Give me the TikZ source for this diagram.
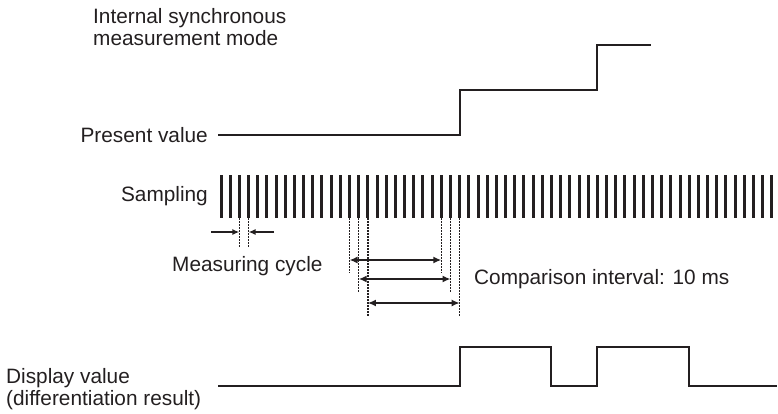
\documentclass[tikz,border=0pt]{standalone}
\usepackage{fontspec}
\setmainfont{Liberation Sans}
\usetikzlibrary{arrows.meta,positioning,calc}
\definecolor{ink}{HTML}{231F20}
\tikzset{
  label/.style={font=\fontsize{20.8}{21.5}\selectfont,text=ink,inner sep=0pt,align=left},
  signal/.style={draw=ink,line width=2pt},
  sampletick/.style={draw=ink,line width=3pt},
  guide/.style={draw=ink,line width=1.5pt,dash pattern=on 1.5pt off 1.5pt},
  span/.style={{Latex[length=8pt,width=7pt]}-{Latex[length=8pt,width=7pt]},draw=ink,line width=1.8pt},
  halfspan/.style={-{Latex[length=7pt,width=6pt]},draw=ink,line width=1.6pt}
}

\begin{document}
\begin{tikzpicture}[x=1pt,y=-1pt]
\useasboundingbox (0,0) rectangle (778,413);

% labels
\node[label,anchor=west] (modelabel) at (93,27) {Internal synchronous\\measurement mode};
\node[label,anchor=east] (pvlabel) at (208,135) {Present value};
\node[label,anchor=east] (samplabel) at (208,196) {Sampling};
\node[label,anchor=west] (cyclelabel) at (172,266) {Measuring cycle};
\node[label,anchor=west] (cmplabel) at (474,279) {Comparison interval: 10 ms};
\node[label,anchor=west] (displabel) at (6,389) {Display value\\(differentiation result)};

% sampling ticks
\foreach \i in {0,...,60} {
  \coordinate (s\i) at ({221+9.18*\i},175);
  \coordinate (b\i) at ({221+9.18*\i},218);
  \draw[sampletick] (s\i) -- (b\i);
}

% present value
\coordinate (pvlow) at (218,135);
\coordinate (pvmid) at (0,90);
\coordinate (pvtop) at (0,45);
\coordinate (pvend) at (651,45);
\draw[signal] (pvlow) -- (s26 |- pvlow) -- (s26 |- pvmid) -- (s41 |- pvmid) -- (s41 |- pvtop) -- (pvend);

% measuring cycle
\coordinate (cycL) at (211,232);
\coordinate (cycR) at (274,232);
\coordinate (cycend) at (0,247);
\draw[guide] (b2) -- (b2 |- cycend);
\draw[guide] (b3) -- (b3 |- cycend);
\draw[halfspan] (cycL) -- (b2 |- cycL);
\draw[halfspan] (cycR) -- (b3 |- cycR);

% comparison interval
\foreach \k/\y/\e in {0/260/273,1/279/293,2/303/317} {
  \coordinate (lvl\k) at (0,\y);
  \coordinate (end\k) at (0,\e);
  \pgfmathtruncatemacro{\a}{14+\k}
  \pgfmathtruncatemacro{\z}{24+\k}
  \draw[guide] (b\a) -- (b\a |- end\k);
  \draw[guide] (b\z) -- (b\z |- end\k);
  \draw[span] (b\a |- lvl\k) -- (b\z |- lvl\k);
}

% display value
\coordinate (dvlow) at (218,386);
\coordinate (dvhigh) at (0,347);
\coordinate (dvend) at (777,386);
\draw[signal] (dvlow) -- (s26 |- dvlow) -- (s26 |- dvhigh) -- (s36 |- dvhigh) -- (s36 |- dvlow)
  -- (s41 |- dvlow) -- (s41 |- dvhigh) -- (s51 |- dvhigh) -- (s51 |- dvlow) -- (dvend);
\end{tikzpicture}
\end{document}
